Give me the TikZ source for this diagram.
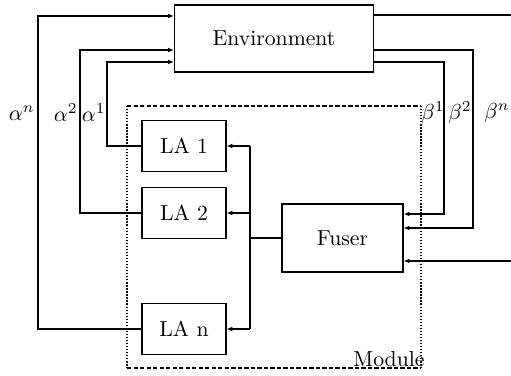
\documentclass[tikz,border=0pt]{standalone}
\usetikzlibrary{arrows.meta}
\begin{document}
\begin{tikzpicture}[x=0.4608pt,y=-0.4608pt,
  box/.style={draw,line width=0.6pt,inner sep=0pt,font=\normalsize},
  ln/.style={line width=0.6pt},
  arr/.style={ln,-{Latex[length=2.6pt,width=2.2pt]}},
  lbl/.style={inner sep=0pt,anchor=east}]
\useasboundingbox (0,0) rectangle (511,376);
\clip (0,0) rectangle (511,376);
% boxes
\node[box,minimum width=91.7pt,minimum height=30.9pt] (env) at (274,38.5) {Environment};
\node[box,minimum width=38.7pt,minimum height=23.5pt] (la1) at (184,146) {LA 1};
\node[box,minimum width=38.7pt,minimum height=23.5pt] (la2) at (184,213) {LA 2};
\node[box,minimum width=38.7pt,minimum height=23.5pt] (lan) at (184,329) {LA n};
\node[box,minimum width=55.8pt,minimum height=31.3pt] (fus) at (342.5,238) {Fuser};
% module
\draw[line width=0.8pt,dash pattern=on 2pt off 1pt] (127,106) -- (421,106);
\draw[line width=0.8pt,dash pattern=on 2pt off 1pt] (127,368) -- (421,368);
\draw[line width=0.9pt,dash pattern=on 0.6pt off 0.8pt] (127,106) -- (127,368);
\draw[line width=0.9pt,dash pattern=on 0.6pt off 0.8pt] (421,106) -- (421,368);
\node[inner sep=0pt,anchor=base east] (mod) at (425,367) {Module};
% alpha connectors
\coordinate (a1) at (107,62);
\coordinate (a2) at (80,50);
\coordinate (an) at (38,16);
\draw[arr] (la1.west) -| (a1) -- (a1 -| env.west);
\draw[arr] (la2.west) -| (a2) -- (a2 -| env.west);
\draw[arr] (lan.west) -| (an) -- (an -| env.west);
% bus
\coordinate (b1) at (250,146);
\coordinate (b2) at (250,213);
\coordinate (bn) at (250,329);
\draw[ln] (b1) -- (bn);
\draw[ln] (fus.west) -- (fus.west -| b1);
\draw[arr] (b1) -- (la1.east);
\draw[arr] (b2) -- (la2.east);
\draw[arr] (bn) -- (lan.east);
% beta connectors
\coordinate (c1) at (444,62);
\coordinate (c2) at (473,50);
\coordinate (cn) at (516,15);
\coordinate (d1) at (444,214);
\coordinate (d2) at (473,228);
\coordinate (dn) at (516,261);
\draw[arr] (c1 -| env.east) -- (c1) -- (d1) -- (d1 -| fus.east);
\draw[arr] (c2 -| env.east) -- (c2) -- (d2) -- (d2 -| fus.east);
\draw[arr] (cn -| env.east) -- (cn) -- (dn) -- (dn -| fus.east);
% labels
\node[lbl] (la) at (35,113) {$\alpha^n$};
\node[lbl] (lb) at (78,113) {$\alpha^2$};
\node[lbl] (lc) at (106,113) {$\alpha^1$};
\node[lbl] (ld) at (445,113) {$\beta^1$};
\node[lbl] (le) at (472,113) {$\beta^2$};
\node[lbl] (lf) at (510,113) {$\beta^n$};
\end{tikzpicture}
\end{document}
